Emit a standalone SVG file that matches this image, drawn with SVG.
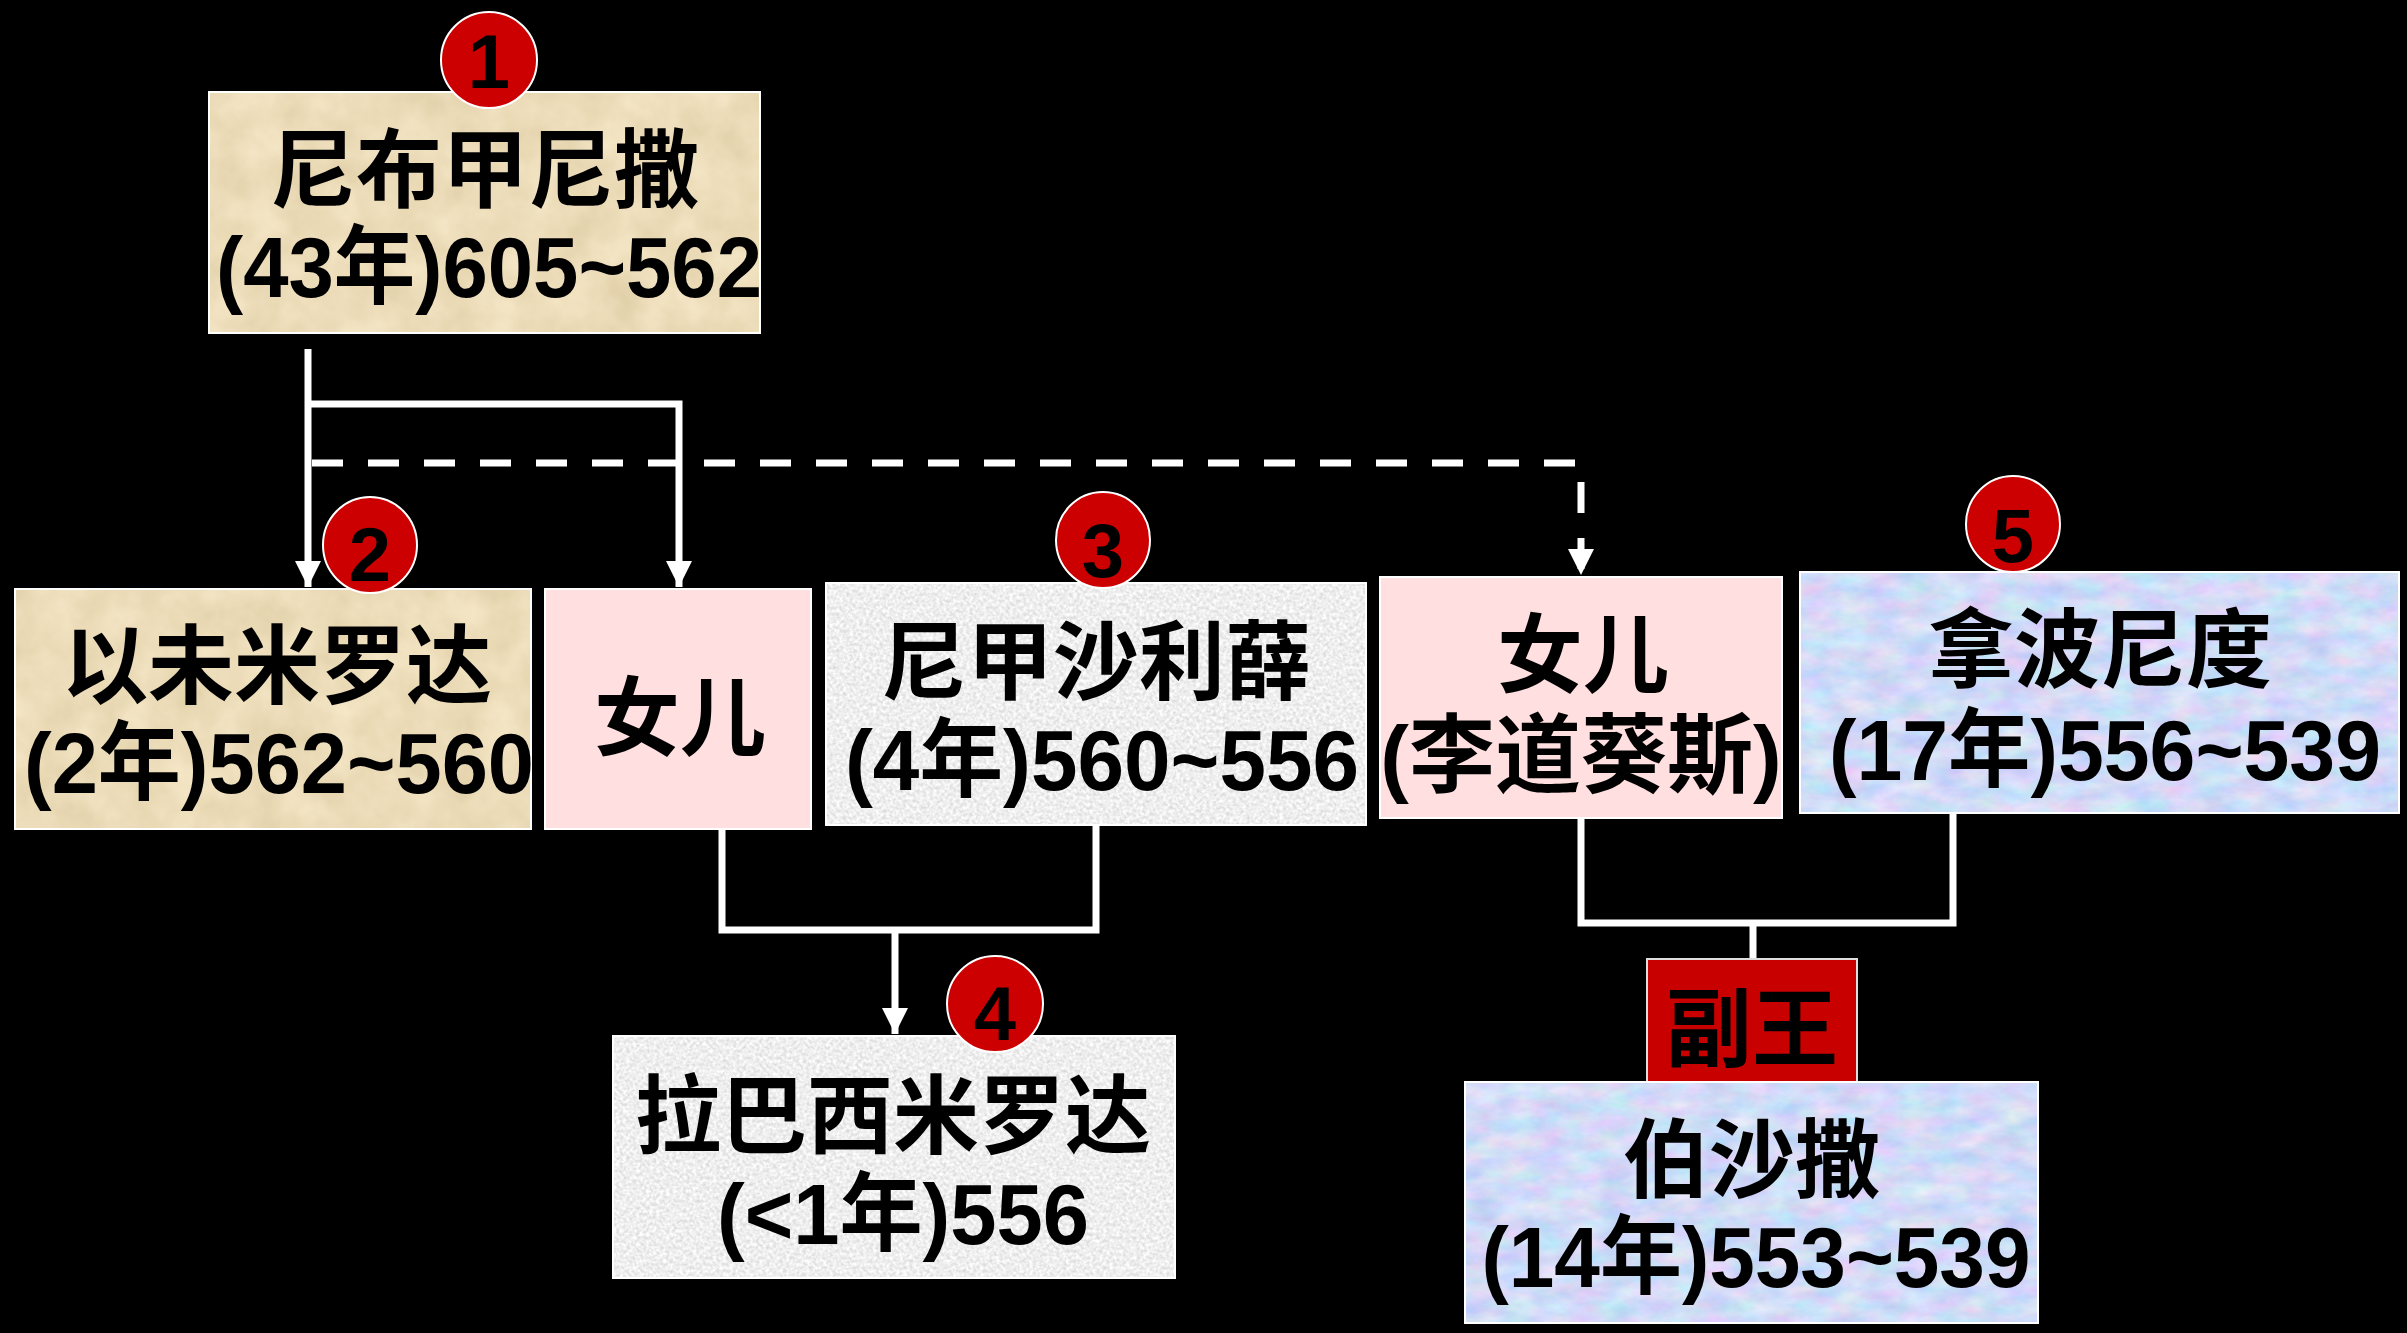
<svg xmlns="http://www.w3.org/2000/svg" width="2407" height="1333" viewBox="0 0 2407 1333">
<style>
.t{font-family:"Liberation Sans","Noto Sans CJK SC",sans-serif;font-weight:bold;font-size:86px;fill:#000;text-anchor:middle}
.num{font-family:"Liberation Sans",sans-serif;font-weight:bold;font-size:76px;fill:#000;text-anchor:middle}
.frame{fill:none;stroke:#fff;stroke-width:2}
.badge{fill:#cc0000;stroke:#fff;stroke-width:2}
.ln{fill:none;stroke:#fff;stroke-width:7}
.dash{stroke-dasharray:31 25}
</style>
<defs>
<marker id="ah" markerUnits="userSpaceOnUse" markerWidth="26" markerHeight="26" refX="24" refY="12" orient="auto" viewBox="0 0 24 24">
<path d="M0,0 L24,12 L0,24 z" fill="#fff"/>
</marker>
<filter id="tan" x="0" y="0" width="1" height="1" color-interpolation-filters="sRGB">
<feTurbulence type="fractalNoise" baseFrequency="0.025" numOctaves="4" seed="3" result="n"/>
<feColorMatrix in="n" type="matrix" values="0.1 0 0 0 0.875  0.11 0 0 0 0.808  0.15 0 0 0 0.65  0 0 0 0 1" result="c"/>
<feComposite in="c" in2="SourceGraphic" operator="in"/>
</filter>
<filter id="grey" x="0" y="0" width="1" height="1" color-interpolation-filters="sRGB">
<feTurbulence type="fractalNoise" baseFrequency="0.3" numOctaves="2" seed="7" result="n"/>
<feColorMatrix in="n" type="matrix" values="0.25 0 0 0 0.81  0.25 0 0 0 0.81  0.25 0 0 0 0.81  0 0 0 0 1" result="c"/>
<feComposite in="c" in2="SourceGraphic" operator="in"/>
</filter>
<filter id="blue" x="0" y="0" width="1" height="1" color-interpolation-filters="sRGB">
<feTurbulence type="fractalNoise" baseFrequency="0.03 0.06" numOctaves="4" seed="11" result="n"/>
<feColorMatrix in="n" type="matrix" values="0.3 0 0 0 0.67  0 0.2 0 0 0.76  0 0 0.1 0 0.92  0 0 0 0 1" result="c"/>
<feComposite in="c" in2="SourceGraphic" operator="in"/>
</filter>
</defs>
<rect x="0" y="0" width="2407" height="1333" fill="#000"/>

<g id="connectors">
<path class="ln" d="M308,349 V587" marker-end="url(#ah)"/>
<path class="ln" d="M308,404 H679 V587" marker-end="url(#ah)"/>
<path class="ln dash" d="M312,463 H1581 V575" marker-end="url(#ah)"/>
<path class="ln" d="M722,829 V930 H1096 V825"/>
<path class="ln" d="M895,930 V1034" marker-end="url(#ah)"/>
<path class="ln" d="M1581,818 V923 H1953 V793"/>
<path class="ln" d="M1753,923 V959"/>
</g>

<g id="node1">
<rect x="209" y="92" width="551" height="241" fill="#fff" filter="url(#tan)"/>
<rect class="frame" x="209" y="92" width="551" height="241"/>
<text class="t" x="485" y="201">尼布甲尼撒</text>
<text class="t" x="489" y="297" textLength="546" lengthAdjust="spacingAndGlyphs">(43年)605~562</text>
<ellipse class="badge" cx="489" cy="60" rx="48" ry="48"/>
<text class="num" x="489" y="88">1</text>
</g>

<g id="node2">
<rect x="15" y="589" width="516" height="240" fill="#fff" filter="url(#tan)"/>
<rect class="frame" x="15" y="589" width="516" height="240"/>
<text class="t" x="277" y="697">以未米罗达</text>
<text class="t" x="279" y="793" textLength="510" lengthAdjust="spacingAndGlyphs">(2年)562~560</text>
<ellipse class="badge" cx="370" cy="545" rx="47" ry="48"/>
<text class="num" x="370" y="581">2</text>
</g>

<g id="daughter1">
<rect x="545" y="589" width="266" height="240" fill="#ffdfdf" stroke="#fff" stroke-width="2"/>
<text class="t" x="680" y="749">女儿</text>
</g>

<g id="node3">
<rect x="826" y="583" width="540" height="242" fill="#fff" filter="url(#grey)"/>
<rect class="frame" x="826" y="583" width="540" height="242"/>
<text class="t" x="1096" y="693">尼甲沙利薛</text>
<text class="t" x="1102" y="790" textLength="514" lengthAdjust="spacingAndGlyphs">(4年)560~556</text>
<ellipse class="badge" cx="1103" cy="540" rx="47" ry="48"/>
<text class="num" x="1103" y="577">3</text>
</g>

<g id="daughter2">
<rect x="1380" y="577" width="402" height="241" fill="#ffdfdf" stroke="#fff" stroke-width="2"/>
<text class="t" x="1583" y="686">女儿</text>
<text class="t" x="1581" y="786">(李道葵斯)</text>
</g>

<g id="node5">
<rect x="1800" y="572" width="599" height="241" fill="#fff" filter="url(#blue)"/>
<rect class="frame" x="1800" y="572" width="599" height="241"/>
<text class="t" x="2100" y="681">拿波尼度</text>
<text class="t" x="2105" y="780" textLength="552" lengthAdjust="spacingAndGlyphs">(17年)556~539</text>
<ellipse class="badge" cx="2013" cy="524" rx="47" ry="48"/>
<text class="num" x="2013" y="562">5</text>
</g>

<g id="node4">
<rect x="613" y="1036" width="562" height="242" fill="#fff" filter="url(#grey)"/>
<rect class="frame" x="613" y="1036" width="562" height="242"/>
<text class="t" x="893" y="1147">拉巴西米罗达</text>
<text class="t" x="903" y="1244" textLength="372" lengthAdjust="spacingAndGlyphs">(&lt;1年)556</text>
<ellipse class="badge" cx="995" cy="1004" rx="48" ry="48"/>
<text class="num" x="995" y="1040">4</text>
</g>

<g id="viceking">
<rect x="1647" y="959" width="210" height="123" fill="#c80000" stroke="#ddd" stroke-width="2"/>
<text class="t" x="1752" y="1060">副王</text>
</g>

<g id="node6">
<rect x="1465" y="1082" width="573" height="241" fill="#fff" filter="url(#blue)"/>
<rect class="frame" x="1465" y="1082" width="573" height="241"/>
<text class="t" x="1752" y="1191">伯沙撒</text>
<text class="t" x="1756" y="1287" textLength="549" lengthAdjust="spacingAndGlyphs">(14年)553~539</text>
</g>
</svg>
